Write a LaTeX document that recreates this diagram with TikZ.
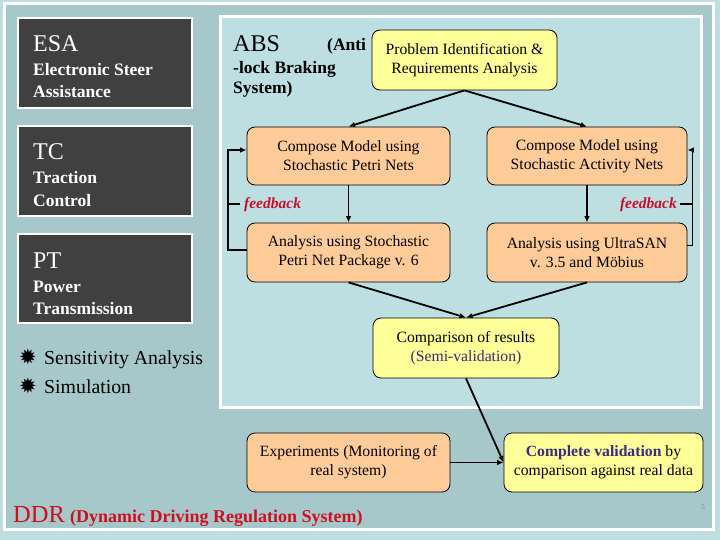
\documentclass[tikz,border=0pt]{standalone}
\usepackage{fontspec}
\setmainfont{Liberation Serif}
\newfontfamily\symfont{DejaVu Sans}
\usetikzlibrary{arrows.meta}
\definecolor{bgl}{HTML}{BDDFE2}
\definecolor{bgd}{HTML}{A7C8CB}
\definecolor{darkfill}{HTML}{404040}
\definecolor{orangefill}{HTML}{FFCC99}
\definecolor{yellowfill}{HTML}{FFFF99}
\definecolor{ddred}{HTML}{CC1020}
\definecolor{fbred}{HTML}{C8102E}
\definecolor{purp}{HTML}{3B2A80}
\tikzset{
  darkbox/.style={fill=darkfill, draw=white, line width=1.5pt, minimum width=174pt, inner sep=0pt},
  flowbox/.style={draw=black, line width=0.8pt, rounded corners=8pt, align=center, inner sep=0pt,
     font=\fontsize{15.7}{19}\selectfont},
  obox/.style={flowbox, fill=orangefill},
  ybox/.style={flowbox, fill=yellowfill},
  conn/.style={line width=1.8pt, -{Latex[length=6.5pt,width=5.5pt]}},
  bigtxt/.style={font=\fontsize{24}{24}\selectfont, anchor=base west, inner sep=0pt},
  subtxt/.style={font=\bfseries\fontsize{17.5}{17.5}\selectfont, anchor=base west, inner sep=0pt},
  fbtxt/.style={font=\bfseries\itshape\fontsize{15.5}{15.5}\selectfont, text=fbred, inner sep=0pt},
  startxt/.style={anchor=base west, inner sep=0pt, font=\symfont\fontsize{21}{21}\selectfont},
  bultxt/.style={anchor=base west, inner sep=0pt, font=\fontsize{19.8}{19.8}\selectfont},
}
\begin{document}
\begin{tikzpicture}[x=1pt,y=-1pt]
\fill[bgl] (0,0) rectangle (720,540);
\useasboundingbox (0,0) rectangle (720,540);
\draw[white,line width=3pt,fill=bgd] (4,4) rectangle (713,529);
\draw[white,line width=3pt,fill=bgl] (220,17) rectangle (701,407);

% dark boxes
\node[darkbox, minimum height=90pt] (esa) at (105,63) {};
\node[darkbox, minimum height=90pt] (tc) at (105,171) {};
\node[darkbox, minimum height=89pt] (pt) at (105,278.5) {};
\node[bigtxt, text=white] (esa1) at (33,52) {ESA};
\node[subtxt, text=white] (esa2) at (33,76) {Electronic Steer};
\node[subtxt, text=white] (esa3) at (33,98) {Assistance};
\node[bigtxt, text=white] (tc1) at (33,160) {TC};
\node[subtxt, text=white] (tc2) at (33,184) {Traction};
\node[subtxt, text=white] (tc3) at (33,207) {Control};
\node[bigtxt, text=white] (pt1) at (33,268) {PT};
\node[subtxt, text=white] (pt2) at (33,292) {Power};
\node[subtxt, text=white] (pt3) at (33,314) {Transmission};

% ABS
\node[bigtxt] (abs1) at (233,52) {ABS};
\node[subtxt] (abs2) at (327,51) {(Anti};
\node[subtxt] (abs3) at (233,74) {-lock Braking};
\node[subtxt] (abs4) at (233,94) {System)};

% flow boxes
\node[ybox, minimum width=185pt, minimum height=60pt] (pb) at (464.5,60) {Problem Identification \&\\Requirements Analysis};
\node[obox, minimum width=203pt, minimum height=58pt] (c1) at (348.5,156) {Compose Model using\\Stochastic Petri Nets};
\node[obox, minimum width=200pt, minimum height=58pt] (c2) at (587,156) {Compose Model using\\Stochastic Activity Nets};
\node[obox, minimum width=203pt, minimum height=59pt] (a1) at (348.5,252.5) {Analysis using Stochastic\\Petri Net Package v. 6};
\node[obox, minimum width=200pt, minimum height=59pt] (a2) at (587,252.5) {Analysis using UltraSAN\\v. 3.5 and Möbius};
\node[ybox, minimum width=186pt, minimum height=60pt] (cmp) at (466,348) {Comparison of results\\{\color{purp}(Semi-validation)}};
\node[obox, minimum width=203pt, minimum height=59pt] (exp) at (348.5,462.5) {Experiments (Monitoring of\\real system)};
\node[ybox, minimum width=199pt, minimum height=59pt] (val) at (603.5,462.5) {{\color{purp}\bfseries Complete validation} by\\comparison against real data};

% connectors
\draw[conn] (pb.south) -- (c1.north);
\draw[conn] (pb.south) -- (c2.north);
\draw[conn] (c1) -- (a1);
\draw[conn] (c2) -- (a2);
\draw[conn] ([yshift=2.5pt]a1.west) -- ++(-19,0) |- ([yshift=6pt]c1.west);
\draw[conn] ([yshift=7pt]a2.east) -- ++(5,0) |- ([yshift=6pt]c2.east);
\coordinate (fl) at (228,204);
\coordinate (fr) at (692,204);
\draw[line width=1.2pt] (fl) -- ++(12,0);
\draw[line width=1.2pt] (fr) -- ++(-12,0);
\node[fbtxt, anchor=base west] (fbl) at (244,209) {feedback};
\node[fbtxt, anchor=base east] (fbr) at (677,209) {feedback};
\draw[conn] (a1.south) -- (cmp.north);
\draw[conn] (a2.south) -- (cmp.north);
\draw[conn] (cmp.south) -- (val.west);
\draw[conn] (exp) -- (val);

% bullets
\node[startxt] (s1) at (19,364) {✹};
\node[bultxt] (bl1) at (44,364) {Sensitivity Analysis};
\node[startxt] (s2) at (19,393) {✹};
\node[bultxt] (bl2) at (44,393) {Simulation};

% DDR
\node[anchor=base west, inner sep=0pt, font=\fontsize{24.5}{24.5}\selectfont, text=ddred] (ddr) at (13,522) {DDR};
\node[anchor=base west, inner sep=0pt, font=\bfseries\fontsize{18}{18}\selectfont, text=ddred] (ddr2) at (70,522) {(Dynamic Driving Regulation System)};

\node[inner sep=0pt, font=\fontsize{7}{7}\selectfont, text=gray] (pg) at (703,507) {5};
\end{tikzpicture}
\end{document}
